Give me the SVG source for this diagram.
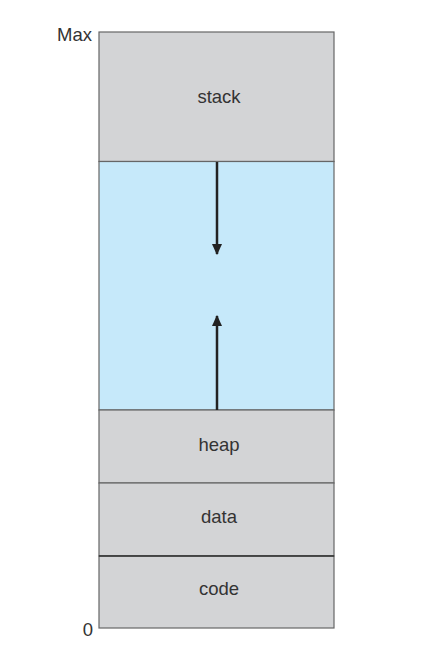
<svg xmlns="http://www.w3.org/2000/svg" width="422" height="659" viewBox="0 0 422 659">
<style>
.seg{fill:#d3d4d6;stroke:#666;stroke-width:1.2}
.free{fill:#c6e9fa;stroke:#666;stroke-width:1.2}
.lbl{font-family:"Liberation Sans",Arial,sans-serif;font-size:18.5px;fill:#333;text-anchor:middle}
.axis{font-family:"Liberation Sans",Arial,sans-serif;font-size:18.5px;fill:#333;text-anchor:end}
.arr{stroke:#222;stroke-width:2.5;fill:none}
</style>
<defs>
<marker id="ah" viewBox="0 0 10 10" refX="9" refY="5" markerWidth="4.4" markerHeight="4" orient="auto" markerUnits="strokeWidth" preserveAspectRatio="none">
<path d="M0,0 L10,5 L0,10 Z" fill="#222"/>
</marker>
</defs>
<rect width="422" height="659" fill="#fff"/>
<g id="stack"><rect class="seg" x="99" y="32" width="235" height="129.5"/><text class="lbl" x="219" y="103">stack</text></g>
<g id="free"><rect class="free" x="99" y="161.5" width="235" height="248.5"/></g>
<g id="heap"><rect class="seg" x="99" y="410" width="235" height="73"/><text class="lbl" x="219" y="451">heap</text></g>
<g id="data"><rect class="seg" x="99" y="483" width="235" height="73"/><text class="lbl" x="219" y="523">data</text></g>
<g id="code"><rect class="seg" x="99" y="556" width="235" height="72"/><text class="lbl" x="219" y="595">code</text></g>
<line x1="99" y1="556" x2="334" y2="556" stroke="#333" stroke-width="1.6"/>
<g id="labels"><text class="axis" x="92" y="41">Max</text><text class="axis" x="93" y="636">0</text></g>
<g id="connectors">
<line class="arr" x1="217" y1="162" x2="217" y2="254" marker-end="url(#ah)"/>
<line class="arr" x1="217" y1="410" x2="217" y2="316" marker-end="url(#ah)"/>
</g>
</svg>
